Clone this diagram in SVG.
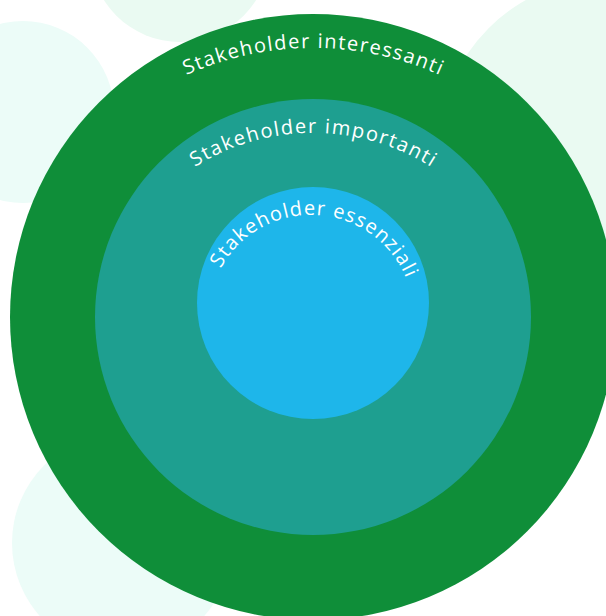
<svg xmlns="http://www.w3.org/2000/svg" width="606" height="616" viewBox="0 0 606 616">
  <style>
    .bg1 { fill: #eafaf2; }
    .bg2 { fill: #ecfcf8; }
    .lbl { font-family: "Open Sans", "Liberation Sans", sans-serif; font-size: 20px; font-weight: 500; fill: #ffffff; }
  </style>
  <defs>
    <path id="arcOuter" d="M 44.5 203 A 310 310 0 0 1 581.5 203"/>
    <path id="arcMid" d="M 120.7 244 A 222 222 0 0 1 505.3 244"/>
    <path id="arcInner" d="M 208.4 309 A 103 103 0 0 1 414 319.8"/>
  </defs>
  <rect width="606" height="616" fill="#ffffff"/>
  <g id="background">
    <circle class="bg1" cx="180" cy="-48" r="90"/>
    <circle class="bg2" cx="23" cy="112" r="91"/>
    <circle class="bg1" cx="610" cy="150" r="172"/>
    <circle class="bg2" cx="122" cy="543" r="110"/>
  </g>
  <g id="outer">
    <circle cx="313" cy="317" r="303" fill="#0f8e39"/>
    <text class="lbl"><textPath href="#arcOuter" startOffset="50%" text-anchor="middle" textLength="261" lengthAdjust="spacing">Stakeholder interessanti</textPath></text>
  </g>
  <g id="middle">
    <circle cx="313" cy="317" r="218" fill="#1e9f90"/>
    <text class="lbl"><textPath href="#arcMid" startOffset="50%" text-anchor="middle" textLength="249" lengthAdjust="spacing">Stakeholder importanti</textPath></text>
  </g>
  <g id="inner">
    <circle cx="313" cy="303" r="116" fill="#1eb6ea"/>
    <text class="lbl"><textPath href="#arcInner" startOffset="50%" text-anchor="middle" textLength="231" lengthAdjust="spacing">Stakeholder essenziali</textPath></text>
  </g>
  <g id="connectors"/>
</svg>
